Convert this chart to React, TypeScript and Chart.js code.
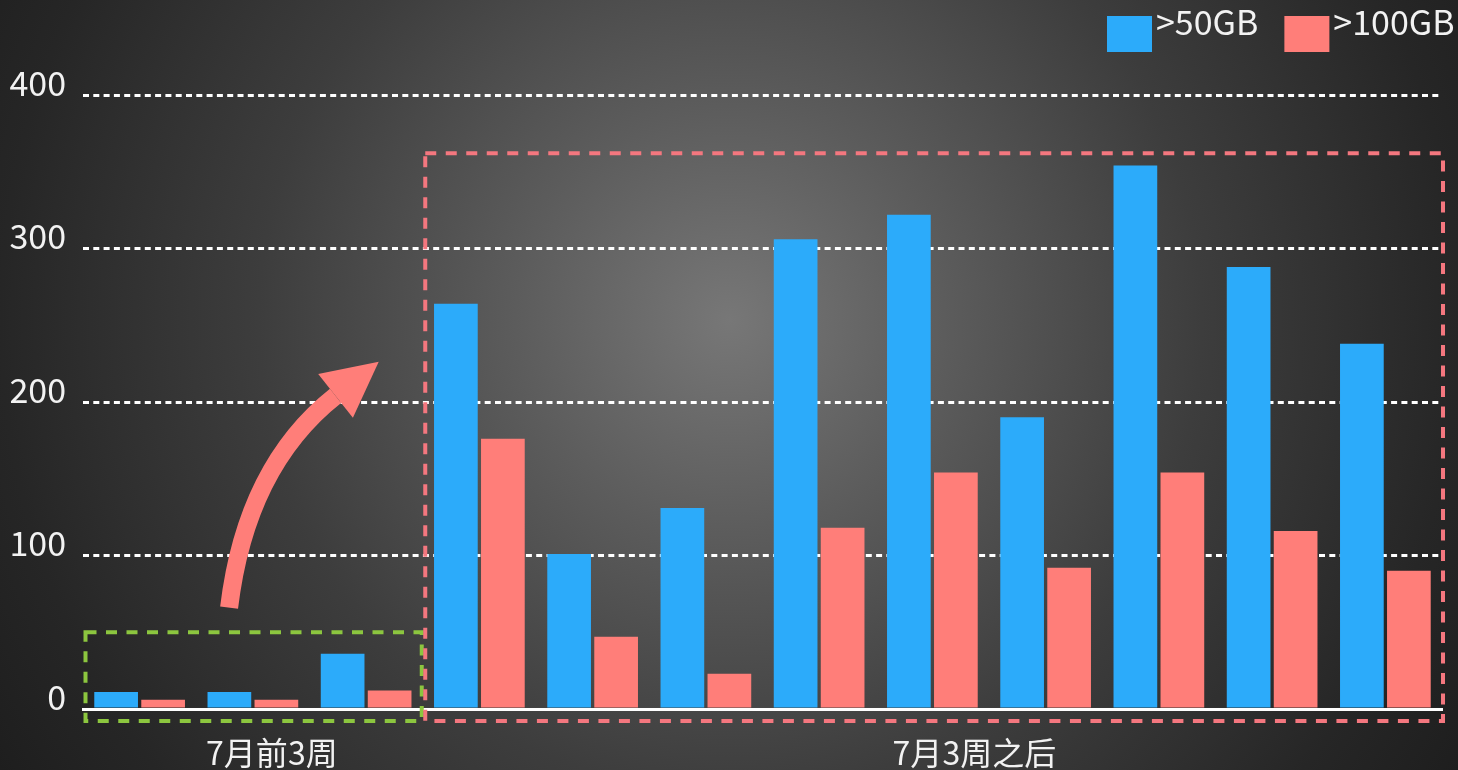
import React, { useEffect, useRef } from 'react';
import { Chart, registerables } from 'chart.js';

Chart.register(...registerables);

// ---- data ----
const categories = ['1', '2', '3', '4', '5', '6', '7', '8', '9', '10', '11', '12'];
const seriesNames = ['>50GB', '>100GB'];
const over50GB = [11, 11, 36, 264, 101, 131, 306, 322, 190, 354, 288, 238];
const over100GB = [6, 6, 12, 176, 47, 23, 118, 154, 92, 154, 116, 90];
const yTickValues = [0, 100, 200, 300, 400];

// groups (annotation boxes + labels under the axis)
const groupLabels = ['7月前3周', '7月3周之后'];
const groupFirst = [0, 3];
const groupLast = [2, 11];
const groupBoxTop = [50, 362];

// arrow path in data coordinates (category index, value)
const arrowStart = [0.79, 66];
const arrowControl = [0.94, 158];
const arrowEnd = [1.73, 204];

const BLUE = '#2CABFA';
const PINK = '#FF7E79';
const FONT = '"Noto Sans CJK SC", "Noto Sans", sans-serif';

export default function App() {
  const ref = useRef<HTMLCanvasElement | null>(null);

  useEffect(() => {
    const canvas = ref.current;
    if (!canvas) return;

    const decor = {
      id: 'decor',
      afterDatasetsDraw(chart: any) {
        const { ctx } = chart;
        const x = chart.scales.x;
        const y = chart.scales.y;
        const half = (x.getPixelForValue(1) - x.getPixelForValue(0)) / 2;
        const baseY = y.getPixelForValue(0);
        const boxColors = ['#8CC63F', '#F4777F'];
        const labelShift = [19, 42];

        ctx.save();
        groupLabels.forEach((label, i) => {
          const left = x.getPixelForValue(groupFirst[i]) - half + 2.5;
          const right = x.getPixelForValue(groupLast[i]) + half - (i === 0 ? 1 : -1);
          const top = y.getPixelForValue(groupBoxTop[i]);
          const bottom = baseY + 12;
          ctx.strokeStyle = boxColors[i];
          ctx.lineWidth = 4;
          ctx.setLineDash([11, 9.5]);
          ctx.strokeRect(left, top, right - left, bottom - top);

          ctx.setLineDash([]);
          ctx.fillStyle = '#f2f2f2';
          ctx.font = `32px ${FONT}`;
          ctx.textAlign = 'center';
          ctx.textBaseline = 'middle';
          const cx = (x.getPixelForValue(groupFirst[i]) + x.getPixelForValue(groupLast[i])) / 2 + labelShift[i];
          ctx.fillText(label, cx, baseY + 44);
        });

        // curved arrow
        const sx = x.getPixelForValue(arrowStart[0]);
        const sy = y.getPixelForValue(arrowStart[1]);
        const cxp = x.getPixelForValue(arrowControl[0]);
        const cyp = y.getPixelForValue(arrowControl[1]);
        const ex = x.getPixelForValue(arrowEnd[0]);
        const ey = y.getPixelForValue(arrowEnd[1]);
        ctx.setLineDash([]);
        ctx.strokeStyle = PINK;
        ctx.fillStyle = PINK;
        ctx.lineWidth = 18;
        ctx.lineCap = 'butt';
        ctx.beginPath();
        ctx.moveTo(sx, sy);
        ctx.quadraticCurveTo(cxp, cyp, ex, ey);
        ctx.stroke();
        let dx = ex - cxp;
        let dy = ey - cyp;
        const len = Math.hypot(dx, dy);
        dx /= len;
        dy /= len;
        const nx = -dy;
        const ny = dx;
        ctx.beginPath();
        ctx.moveTo(ex + dx * 55, ey + dy * 55);
        ctx.lineTo(ex + nx * 28, ey + ny * 28);
        ctx.lineTo(ex - nx * 28, ey - ny * 28);
        ctx.closePath();
        ctx.fill();
        ctx.restore();
      },
      afterDraw(chart: any) {
        const { ctx } = chart;
        ctx.save();
        ctx.font = `34px ${FONT}`;
        ctx.textAlign = 'left';
        ctx.textBaseline = 'alphabetic';
        let px = 1107;
        chart.data.datasets.forEach((ds: any) => {
          ctx.fillStyle = ds.backgroundColor;
          ctx.fillRect(px, 16, 45, 36);
          ctx.fillStyle = '#f2f2f2';
          ctx.fillText(ds.label, px + 49, 35);
          px += 49 + ctx.measureText(ds.label).width + 26;
        });
        ctx.restore();
      },
    };

    const chart = new Chart(canvas, {
      type: 'bar',
      data: {
        labels: categories,
        datasets: [
          { label: seriesNames[0], data: over50GB, backgroundColor: BLUE, categoryPercentage: 0.83, barPercentage: 0.93 },
          { label: seriesNames[1], data: over100GB, backgroundColor: PINK, categoryPercentage: 0.83, barPercentage: 0.93 },
        ],
      },
      options: {
        animation: false,
        responsive: false,
        maintainAspectRatio: false,
        layout: { padding: { top: 95, bottom: 61, left: 0, right: 16 } },
        plugins: { legend: { display: false }, tooltip: { enabled: false } },
        scales: {
          x: {
            z: 1,
            grid: { display: false },
            ticks: { display: false },
            border: { display: true, color: '#ffffff', width: 3 },
            afterFit: (s: any) => {
              s.height = 0;
            },
          },
          y: {
            min: 0,
            max: 400,
            afterBuildTicks: (s: any) => {
              s.ticks = yTickValues.map((v) => ({ value: v }));
            },
            afterFit: (s: any) => {
              s.width = 83;
            },
            border: { display: false, dash: [6, 4.3] },
            grid: {
              drawTicks: false,
              color: (c: any) => (c.tick && c.tick.value === 0 ? 'rgba(0,0,0,0)' : '#ffffff'),
              lineWidth: 3,
            },
            ticks: {
              color: '#f2f2f2',
              padding: 17,
              labelOffset: -12,
              font: { size: 34, family: FONT },
            },
          },
        },
      },
      plugins: [decor],
    } as any);

    return () => chart.destroy();
  }, []);

  return (
    <div
      style={{
        position: 'fixed',
        left: 0,
        top: 0,
        width: 1458,
        height: 770,
        background:
          'radial-gradient(circle at 730px 320px, #777777 0%, #5c5c5c 25%, #3d3d3d 55%, #262626 85%, #1e1e1e 100%)',
      }}
    >
      <canvas ref={ref} width={1458} height={770} style={{ display: 'block' }} />
    </div>
  );
}
